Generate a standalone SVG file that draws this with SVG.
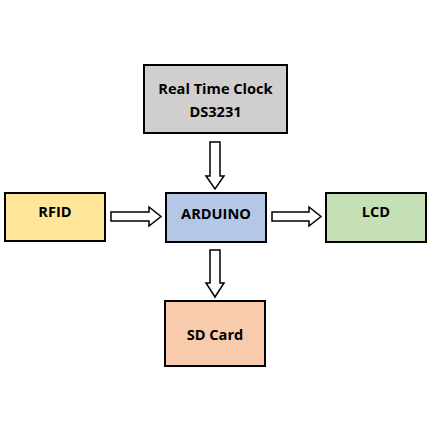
<svg xmlns="http://www.w3.org/2000/svg" width="432" height="432" viewBox="0 0 432 432">
<style>
.box{stroke:#000;stroke-width:2}
.t{font-family:"Open Sans","Liberation Sans",sans-serif;font-weight:bold;font-size:14.6px;fill:#000;text-anchor:middle}
.arr{fill:#fff;stroke:#000;stroke-width:1.5;stroke-linejoin:miter}
</style>
<rect width="432" height="432" fill="#fff"/>
<g id="rtc"><rect class="box" x="144" y="65" width="143" height="68" fill="#d0cece"/><text class="t" x="215.5" y="94">Real Time Clock</text><text class="t" x="215.5" y="117">DS3231</text></g>
<g id="rfid"><rect class="box" x="5" y="193" width="100" height="48" fill="#ffe699"/><text class="t" x="55" y="217">RFID</text></g>
<g id="arduino"><rect class="box" x="166" y="193" width="100" height="49" fill="#b4c7e7"/><text class="t" x="216" y="219">ARDUINO</text></g>
<g id="lcd"><rect class="box" x="326" y="193" width="100" height="49" fill="#c5e0b4"/><text class="t" x="376" y="217">LCD</text></g>
<g id="sd"><rect class="box" x="165" y="301" width="100" height="65" fill="#f8cbad"/><text class="t" x="215" y="340">SD Card</text></g>
<g id="connectors">
<polygon class="arr" points="210,142 220,142 220,176 224,176 215,189 206,176 210,176"/>
<polygon class="arr" points="111,212 149,212 149,207 161,216.5 149,226 149,221 111,221"/>
<polygon class="arr" points="272,212 309,212 309,207 321,216.5 309,226 309,221 272,221"/>
<polygon class="arr" points="210,250 220,250 220,283 224,283 215,297 206,283 210,283"/>
</g>
</svg>
